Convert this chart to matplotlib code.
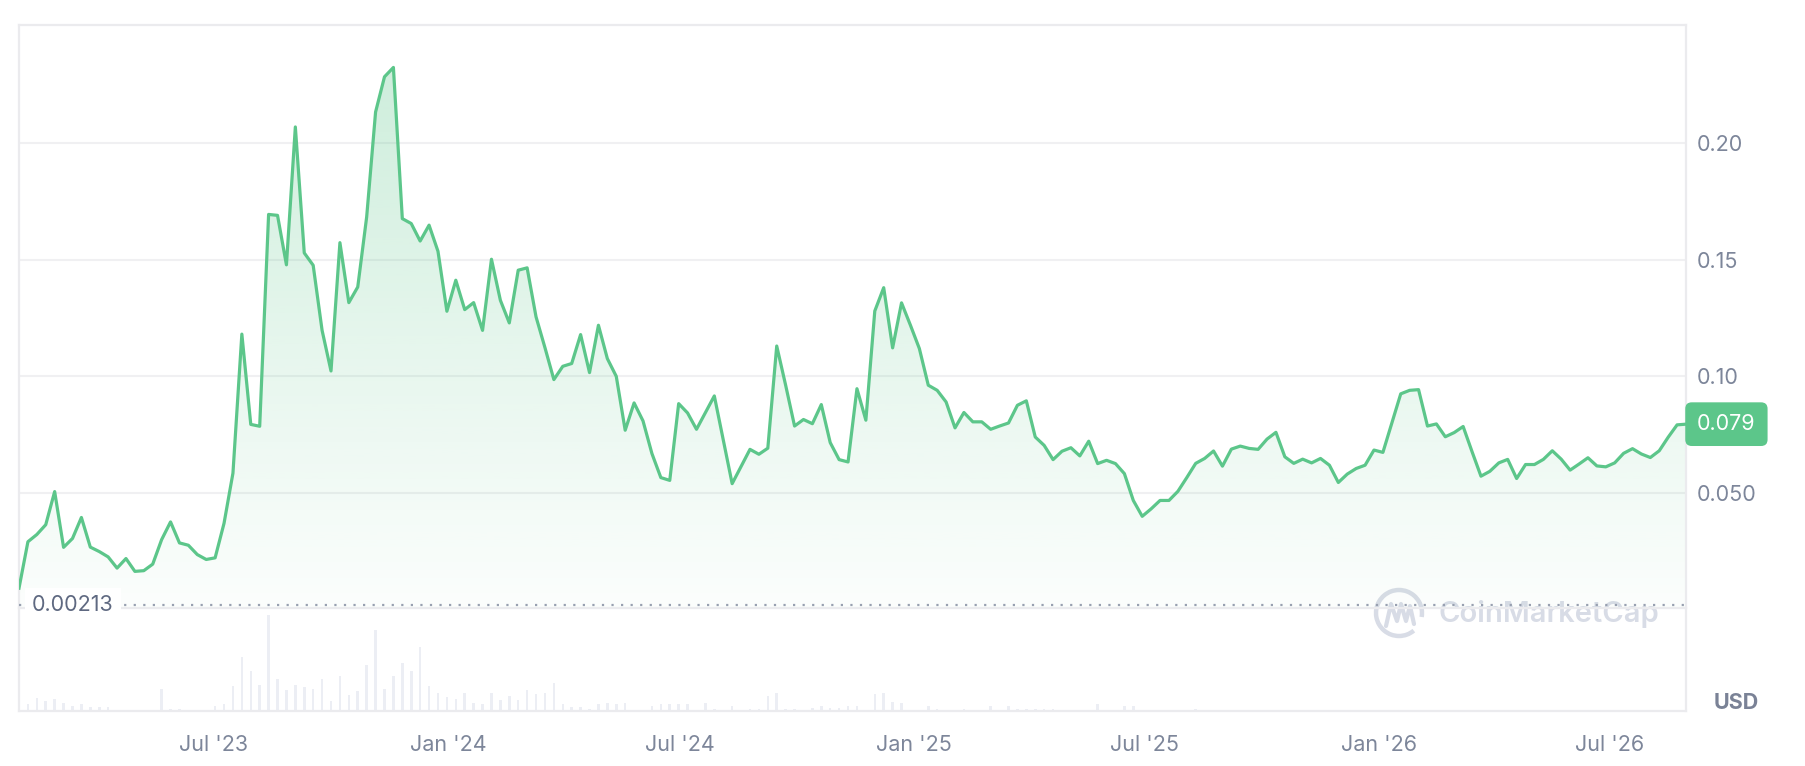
import numpy as np
import pandas as pd
import matplotlib
matplotlib.use('Agg')
import matplotlib.pyplot as plt
import matplotlib.dates as mdates
from matplotlib.patches import Arc
from matplotlib.colors import to_rgb

plt.rcParams['font.family'] = ['Inter', 'DejaVu Sans']

# weekly closes (USD)
price = [
    0.0092, 0.0291, 0.0322, 0.0364, 0.0506, 0.0267, 0.0305, 0.0395, 0.0268, 0.0249,
    0.0226, 0.0178, 0.0219, 0.0164, 0.0167, 0.0195, 0.0300, 0.0376, 0.0286, 0.0276,
    0.0236, 0.0215, 0.0222, 0.0370, 0.0585, 0.1181, 0.0794, 0.0786, 0.1694, 0.1690,
    0.1478, 0.2069, 0.1529, 0.1476, 0.1197, 0.1023, 0.1573, 0.1316, 0.1383, 0.1683,
    0.2133, 0.2284, 0.2324, 0.1676, 0.1655, 0.1580, 0.1648, 0.1536, 0.1279, 0.1412,
    0.1286, 0.1316, 0.1197, 0.1502, 0.1326, 0.1229, 0.1455, 0.1465, 0.1255, 0.1123,
    0.0986, 0.1043, 0.1055, 0.1179, 0.1016, 0.1219, 0.1076, 0.1000, 0.0769, 0.0886,
    0.0809, 0.0669, 0.0566, 0.0554, 0.0883, 0.0843, 0.0773, 0.0845, 0.0916, 0.0729,
    0.0540, 0.0614, 0.0687, 0.0666, 0.0692, 0.1130, 0.0962, 0.0787, 0.0815, 0.0797,
    0.0879, 0.0716, 0.0643, 0.0633, 0.0947, 0.0812, 0.1280, 0.1380, 0.1122, 0.1315,
    0.1219, 0.1119, 0.0962, 0.0940, 0.0890, 0.0779, 0.0845, 0.0805, 0.0805, 0.0773,
    0.0787, 0.0800, 0.0876, 0.0895, 0.0740, 0.0704, 0.0643, 0.0679, 0.0694, 0.0659,
    0.0722, 0.0626, 0.0640, 0.0626, 0.0583, 0.0468, 0.0400, 0.0432, 0.0468, 0.0468,
    0.0507, 0.0566, 0.0627, 0.0648, 0.0680, 0.0615, 0.0688, 0.0701, 0.0691, 0.0687,
    0.0731, 0.0760, 0.0655, 0.0627, 0.0645, 0.0629, 0.0648, 0.0619, 0.0545, 0.0581,
    0.0605, 0.0619, 0.0684, 0.0674, 0.0799, 0.0925, 0.0940, 0.0943, 0.0787, 0.0796,
    0.0741, 0.0759, 0.0785, 0.0677, 0.0572, 0.0593, 0.0629, 0.0644, 0.0562, 0.0622,
    0.0622, 0.0644, 0.0681, 0.0645, 0.0598, 0.0624, 0.0651, 0.0616, 0.0612, 0.0629,
    0.0670, 0.0690, 0.0667, 0.0652, 0.0681, 0.0739, 0.0792, 0.0795,
]

# relative weekly volume (arbitrary units)
volume = [
    0, 20, 38, 30, 37, 25, 15, 20, 12, 12,
    12, 0, 0, 0, 0, 0, 67, 7, 7, 0,
    0, 0, 14, 20, 74, 162, 120, 79, 287, 97,
    62, 79, 72, 67, 97, 30, 104, 47, 60, 139,
    242, 67, 104, 144, 120, 192, 74, 55, 42, 37,
    55, 24, 20, 55, 32, 44, 32, 62, 50, 55,
    85, 20, 12, 12, 7, 20, 24, 20, 24, 0,
    0, 14, 20, 20, 20, 20, 0, 24, 7, 0,
    14, 0, 7, 7, 44, 54, 7, 7, 0, 10,
    14, 10, 10, 14, 14, 0, 50, 54, 27, 24,
    0, 0, 14, 7, 0, 0, 7, 0, 0, 14,
    0, 14, 7, 7, 7, 7, 7, 0, 0, 0,
    0, 20, 0, 0, 14, 14, 0, 0, 0, 0,
    0, 0, 7, 0, 0, 0, 0, 0, 0, 0,
    0, 0, 0, 0, 0, 0, 0, 0, 0, 0,
    0, 0, 0, 0, 0, 0, 0, 0, 0, 0,
    0, 0, 0, 0, 0, 0, 0, 0, 0, 0,
    0, 0, 0, 0, 0, 0, 0, 0, 0, 0,
    0, 0, 0, 0, 0, 0, 0, 0,
]

start_date = '2023-01-29'
y_ticks = [0.05, 0.10, 0.15, 0.20]
y_tick_labels = ['0.050', '0.10', '0.15', '0.20']
x_tick_dates = ['2023-07-01', '2024-01-01', '2024-07-01', '2025-01-01',
                '2025-07-01', '2026-01-01', '2026-07-01']
x_tick_labels = ["Jul '23", "Jan '24", "Jul '24", "Jan '25",
                 "Jul '25", "Jan '26", "Jul '26"]
low_price = 0.00213
last_label = '0.079'

GREEN = '#5cc68a'
GRID = '#f0f0f2'
BORDER = '#ebebee'
TXT = '#7d869a'

W, H = 1806, 766
price = np.array(price)
dates = pd.date_range(start_date, periods=len(price), freq='7D')
x = mdates.date2num(dates)

fig = plt.figure(figsize=(W / 100, H / 100), dpi=100, facecolor='white')

# pixel-space layer for the watermark
bg = fig.add_axes([0, 0, 1, 1])
bg.set_xlim(0, W)
bg.set_ylim(H, 0)
bg.axis('off')
bg.set_zorder(0)

left, right, top, sep, bot = 19, 1686, 25, 608, 711
ax = fig.add_axes([left / W, 1 - sep / H, (right - left) / W, (sep - top) / H])
axv = fig.add_axes([left / W, 1 - bot / H, (right - left) / W, (bot - sep) / H], sharex=ax)
for a in (ax, axv):
    a.set_zorder(2)
    a.patch.set_alpha(0)
    for s in a.spines.values():
        s.set_color(BORDER)
        s.set_linewidth(1.6)

ylo, yhi = 0.0007, 0.2506
ax.set_xlim(x[0], x[-1])
ax.set_ylim(ylo, yhi)

# gradient area under the line
grad = np.zeros((256, 1, 4))
grad[..., :3] = to_rgb(GREEN)
grad[..., 3] = np.linspace(0.30, 0.02, 256)[:, None]
im = ax.imshow(grad, extent=[x[0], x[-1], ylo, price.max()], aspect='auto',
               origin='upper', zorder=1, interpolation='bilinear')
poly = ax.fill_between(x, price, ylo, facecolor='none', edgecolor='none')
im.set_clip_path(poly.get_paths()[0], transform=ax.transData)
ax.set_xlim(x[0], x[-1])
ax.set_ylim(ylo, yhi)

ax.plot(x, price, color=GREEN, lw=2.3, solid_joinstyle='round', zorder=4)

ax.axhline(low_price, color='#98a0b0', lw=1.6, ls=(0, (1, 3.3)), zorder=3)
ax.text((32 - left) / (right - left), low_price, f'{low_price:.5f}',
        transform=ax.get_yaxis_transform(), ha='left', va='center',
        fontsize=15.5, color='#5f6981', zorder=5,
        bbox=dict(fc='white', ec='none', pad=5))

ax.set_yticks(y_ticks)
ax.set_yticklabels(y_tick_labels)
ax.yaxis.tick_right()
ax.tick_params(axis='y', length=0, pad=8, labelsize=15.5, labelcolor=TXT)
ax.tick_params(axis='x', length=0, labelbottom=False)
ax.grid(axis='y', color=GRID, lw=1.5)
ax.set_axisbelow(True)

ax.annotate(last_label, xy=(1, price[-1]), xycoords=('axes fraction', 'data'),
            xytext=(8, 0), textcoords='offset points', ha='left', va='center',
            fontsize=15.5, color='white', zorder=6, annotation_clip=False,
            bbox=dict(boxstyle='round,pad=0.55,rounding_size=0.3', fc=GREEN, ec='none'))

axv.bar(x, volume, width=2.0, color='#eceef4', zorder=1)
axv.set_ylim(0, 308)
axv.set_yticks([])
axv.spines['top'].set_visible(False)
axv.set_xticks(mdates.date2num(pd.to_datetime(x_tick_dates)))
axv.set_xticklabels(x_tick_labels)
axv.tick_params(axis='x', length=0, pad=17, labelsize=15.5, labelcolor=TXT)

fig.text(1736 / W, 1 - 703 / H, 'USD', ha='center', va='center',
         fontsize=15.5, fontweight='bold', color='#7a8296')

# watermark
wm = '#d8dce6'
bg.add_patch(Arc((1399, 613), 46, 46, theta1=50, theta2=370, lw=3.2, color=wm))
bg.plot([1386, 1391, 1397, 1401, 1406, 1410, 1414], [626, 604, 621, 604, 621, 606, 624],
        color=wm, lw=3.0, solid_joinstyle='round', solid_capstyle='round')
bg.text(1439, 614, 'CoinMarketCap', ha='left', va='center', fontsize=21,
        fontweight='semibold', color=wm)

fig.savefig('out.png', dpi=100, facecolor='white')
